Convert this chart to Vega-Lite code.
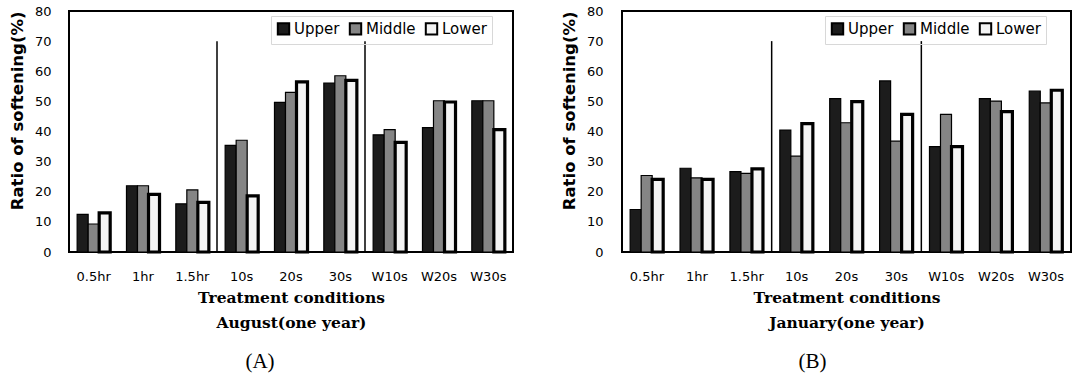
{
  "$schema": "https://vega.github.io/schema/vega-lite/v6.json",
  "background": "white",
  "padding": {"left": 8, "top": 4, "right": 0, "bottom": 0},
  "spacing": 46,
  "datasets": {
    "aug": [
      {"cond": "0.5hr", "pos": "Upper", "v": 12.5}, {"cond": "0.5hr", "pos": "Middle", "v": 9.3}, {"cond": "0.5hr", "pos": "Lower", "v": 13.0},
      {"cond": "1hr", "pos": "Upper", "v": 22.0}, {"cond": "1hr", "pos": "Middle", "v": 22.0}, {"cond": "1hr", "pos": "Lower", "v": 19.1},
      {"cond": "1.5hr", "pos": "Upper", "v": 16.0}, {"cond": "1.5hr", "pos": "Middle", "v": 20.6}, {"cond": "1.5hr", "pos": "Lower", "v": 16.5},
      {"cond": "10s", "pos": "Upper", "v": 35.4}, {"cond": "10s", "pos": "Middle", "v": 37.1}, {"cond": "10s", "pos": "Lower", "v": 18.6},
      {"cond": "20s", "pos": "Upper", "v": 49.7}, {"cond": "20s", "pos": "Middle", "v": 53.0}, {"cond": "20s", "pos": "Lower", "v": 56.5},
      {"cond": "30s", "pos": "Upper", "v": 56.1}, {"cond": "30s", "pos": "Middle", "v": 58.5}, {"cond": "30s", "pos": "Lower", "v": 57.0},
      {"cond": "W10s", "pos": "Upper", "v": 38.9}, {"cond": "W10s", "pos": "Middle", "v": 40.6}, {"cond": "W10s", "pos": "Lower", "v": 36.4},
      {"cond": "W20s", "pos": "Upper", "v": 41.3}, {"cond": "W20s", "pos": "Middle", "v": 50.2}, {"cond": "W20s", "pos": "Lower", "v": 49.8},
      {"cond": "W30s", "pos": "Upper", "v": 50.2}, {"cond": "W30s", "pos": "Middle", "v": 50.2}, {"cond": "W30s", "pos": "Lower", "v": 40.6}
    ],
    "jan": [
      {"cond": "0.5hr", "pos": "Upper", "v": 14.1}, {"cond": "0.5hr", "pos": "Middle", "v": 25.4}, {"cond": "0.5hr", "pos": "Lower", "v": 24.1},
      {"cond": "1hr", "pos": "Upper", "v": 27.8}, {"cond": "1hr", "pos": "Middle", "v": 24.6}, {"cond": "1hr", "pos": "Lower", "v": 24.1},
      {"cond": "1.5hr", "pos": "Upper", "v": 26.7}, {"cond": "1.5hr", "pos": "Middle", "v": 26.1}, {"cond": "1.5hr", "pos": "Lower", "v": 27.6},
      {"cond": "10s", "pos": "Upper", "v": 40.5}, {"cond": "10s", "pos": "Middle", "v": 31.8}, {"cond": "10s", "pos": "Lower", "v": 42.6},
      {"cond": "20s", "pos": "Upper", "v": 50.9}, {"cond": "20s", "pos": "Middle", "v": 42.9}, {"cond": "20s", "pos": "Lower", "v": 49.9},
      {"cond": "30s", "pos": "Upper", "v": 56.8}, {"cond": "30s", "pos": "Middle", "v": 36.8}, {"cond": "30s", "pos": "Lower", "v": 45.7},
      {"cond": "W10s", "pos": "Upper", "v": 35.0}, {"cond": "W10s", "pos": "Middle", "v": 45.7}, {"cond": "W10s", "pos": "Lower", "v": 35.0},
      {"cond": "W20s", "pos": "Upper", "v": 50.9}, {"cond": "W20s", "pos": "Middle", "v": 50.1}, {"cond": "W20s", "pos": "Lower", "v": 46.6},
      {"cond": "W30s", "pos": "Upper", "v": 53.4}, {"cond": "W30s", "pos": "Middle", "v": 49.5}, {"cond": "W30s", "pos": "Lower", "v": 53.7}
    ],
    "seps": [{"cond": "10s"}, {"cond": "W10s"}]
  },
  "config": {
    "view": {"stroke": "black", "strokeWidth": 2},
    "axis": {"domain": false, "ticks": false, "grid": false, "labelFont": "DejaVu Sans", "labelColor": "black", "titleColor": "black", "labelOverlap": false},
    "legend": {"labelFont": "DejaVu Sans", "labelFontSize": 15, "labelColor": "black"}
  },
  "hconcat": [
    {
      "width": 444,
      "height": 241,
      "title": {"text": "(A)", "orient": "bottom", "font": "Liberation Serif", "fontWeight": "normal", "fontSize": 21, "color": "black", "dx": -31, "offset": 20},
      "layer": [
        {
          "data": {"name": "aug"},
          "mark": {"type": "bar", "stroke": "black"},
          "encoding": {
            "x": {"field": "cond", "type": "nominal", "scale": {"domain": ["0.5hr", "1hr", "1.5hr", "10s", "20s", "30s", "W10s", "W20s", "W30s"], "paddingInner": 0, "paddingOuter": 0},
              "axis": {"labelAngle": 0, "labelFontSize": 13, "labelPadding": 18, "title": ["Treatment conditions", "August(one year)"], "titleFont": "DejaVu Serif", "titleFontWeight": "bold", "titleFontSize": 15.5, "titleLineHeight": 25, "titlePadding": 7}},
            "xOffset": {"field": "pos", "type": "nominal", "scale": {"domain": ["Upper", "Middle", "Lower"], "paddingInner": 0, "paddingOuter": 0.74}},
            "y": {"field": "v", "type": "quantitative", "scale": {"domain": [0, 80]},
              "axis": {"values": [0, 10, 20, 30, 40, 50, 60, 70, 80], "labelOverlap": false, "labelFontSize": 13, "labelPadding": 18, "title": "Ratio of softening(%)", "titleFont": "DejaVu Sans", "titleFontWeight": "bold", "titleFontSize": 16.5, "titleAnchor": "end", "titlePadding": 9}},
            "fill": {"field": "pos", "type": "nominal", "scale": {"domain": ["Upper", "Middle", "Lower"], "range": ["#1c1c1c", "#858585", "#f4f4f4"]},
              "legend": {"title": null, "orient": "none", "legendX": 202, "legendY": 5, "direction": "horizontal", "symbolType": "square", "symbolSize": 130, "symbolStrokeColor": "black", "symbolStrokeWidth": 2, "strokeColor": "#d8d8d8", "padding": 5, "columnPadding": 5, "labelOffset": 3}},
            "strokeWidth": {"condition": {"test": "datum.pos === 'Lower'", "value": 3.2}, "value": 1.2}
          }
        },
        {
          "data": {"name": "seps"},
          "mark": {"type": "rule", "color": "black", "strokeWidth": 1.5},
          "encoding": {
            "x": {"field": "cond", "type": "nominal", "bandPosition": 0,
              "axis": {"labelAngle": 0, "labelFontSize": 13, "labelPadding": 18, "title": ["Treatment conditions", "August(one year)"], "titleFont": "DejaVu Serif", "titleFontWeight": "bold", "titleFontSize": 15.5, "titleLineHeight": 25, "titlePadding": 7}},
            "y": {"datum": 70,
              "axis": {"values": [0, 10, 20, 30, 40, 50, 60, 70, 80], "labelOverlap": false, "labelFontSize": 13, "labelPadding": 18, "title": "Ratio of softening(%)", "titleFont": "DejaVu Sans", "titleFontWeight": "bold", "titleFontSize": 16.5, "titleAnchor": "end", "titlePadding": 9}},
            "y2": {"datum": 0}
          }
        }
      ]
    },
    {
      "width": 449,
      "height": 241,
      "title": {"text": "(B)", "orient": "bottom", "font": "Liberation Serif", "fontWeight": "normal", "fontSize": 21, "color": "black", "dx": -34, "offset": 20},
      "layer": [
        {
          "data": {"name": "jan"},
          "mark": {"type": "bar", "stroke": "black"},
          "encoding": {
            "x": {"field": "cond", "type": "nominal", "scale": {"domain": ["0.5hr", "1hr", "1.5hr", "10s", "20s", "30s", "W10s", "W20s", "W30s"], "paddingInner": 0, "paddingOuter": 0},
              "axis": {"labelAngle": 0, "labelFontSize": 13, "labelPadding": 18, "title": ["Treatment conditions", "January(one year)"], "titleFont": "DejaVu Serif", "titleFontWeight": "bold", "titleFontSize": 15.5, "titleLineHeight": 25, "titlePadding": 7}},
            "xOffset": {"field": "pos", "type": "nominal", "scale": {"domain": ["Upper", "Middle", "Lower"], "paddingInner": 0, "paddingOuter": 0.74}},
            "y": {"field": "v", "type": "quantitative", "scale": {"domain": [0, 80]},
              "axis": {"values": [0, 10, 20, 30, 40, 50, 60, 70, 80], "labelOverlap": false, "labelFontSize": 13, "labelPadding": 19, "title": "Ratio of softening(%)", "titleFont": "DejaVu Sans", "titleFontWeight": "bold", "titleFontSize": 16.5, "titleAnchor": "end", "titlePadding": 9}},
            "fill": {"field": "pos", "type": "nominal", "scale": {"domain": ["Upper", "Middle", "Lower"], "range": ["#1c1c1c", "#858585", "#f4f4f4"]},
              "legend": {"title": null, "orient": "none", "legendX": 203, "legendY": 5, "direction": "horizontal", "symbolType": "square", "symbolSize": 130, "symbolStrokeColor": "black", "symbolStrokeWidth": 2, "strokeColor": "#d8d8d8", "padding": 5, "columnPadding": 5, "labelOffset": 3}},
            "strokeWidth": {"condition": {"test": "datum.pos === 'Lower'", "value": 3.2}, "value": 1.2}
          }
        },
        {
          "data": {"name": "seps"},
          "mark": {"type": "rule", "color": "black", "strokeWidth": 1.5},
          "encoding": {
            "x": {"field": "cond", "type": "nominal", "bandPosition": 0,
              "axis": {"labelAngle": 0, "labelFontSize": 13, "labelPadding": 18, "title": ["Treatment conditions", "January(one year)"], "titleFont": "DejaVu Serif", "titleFontWeight": "bold", "titleFontSize": 15.5, "titleLineHeight": 25, "titlePadding": 7}},
            "y": {"datum": 70,
              "axis": {"values": [0, 10, 20, 30, 40, 50, 60, 70, 80], "labelOverlap": false, "labelFontSize": 13, "labelPadding": 19, "title": "Ratio of softening(%)", "titleFont": "DejaVu Sans", "titleFontWeight": "bold", "titleFontSize": 16.5, "titleAnchor": "end", "titlePadding": 9}},
            "y2": {"datum": 0}
          }
        }
      ]
    }
  ],
  "resolve": {"scale": {"fill": "independent"}, "legend": {"fill": "independent"}}
}
